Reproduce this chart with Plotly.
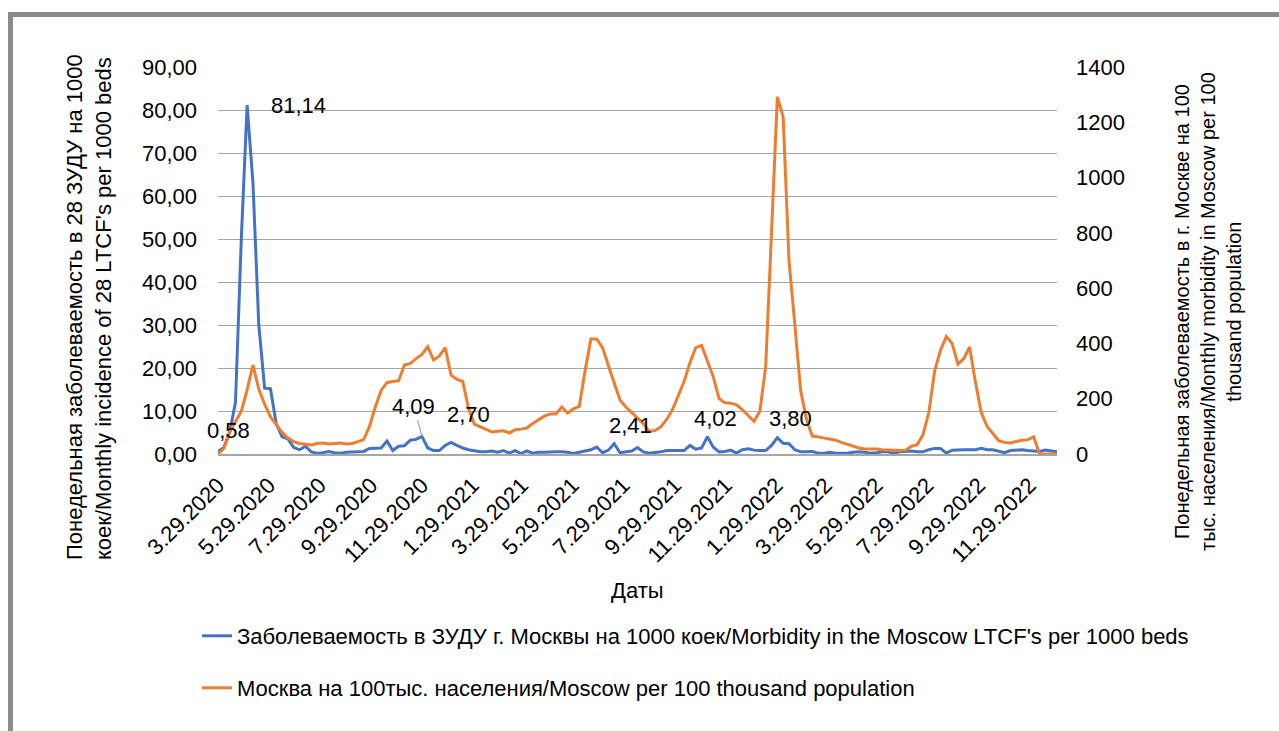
import pandas as pd
import plotly.graph_objects as go

# ---------------- data ----------------
start_date = "2020-03-29"
dates = pd.date_range(start_date, periods=145, freq="7D")

tick_dates = [
    "2020-03-29", "2020-05-29", "2020-07-29", "2020-09-29", "2020-11-29",
    "2021-01-29", "2021-03-29", "2021-05-29", "2021-07-29", "2021-09-29",
    "2021-11-29", "2022-01-29", "2022-03-29", "2022-05-29", "2022-07-29",
    "2022-09-29", "2022-11-29",
]

ltcf = [
    0.58, 1.5, 5.0, 12.0, 50.0, 81.14, 63.0, 30.0, 15.3, 15.2,
    7.0, 4.0, 3.5, 1.5, 1.0, 1.8, 0.5, 0.2, 0.3, 0.6,
    0.3, 0.2, 0.4, 0.5, 0.5, 0.6, 1.3, 1.3, 1.4, 3.0,
    0.8, 1.8, 1.9, 3.2, 3.4, 4.09, 1.4, 0.8, 0.8, 2.0,
    2.70, 2.0, 1.4, 1.0, 0.7, 0.5, 0.5, 0.7, 0.4, 0.8,
    0.2, 0.8, 0.1, 0.7, 0.2, 0.4, 0.4, 0.5, 0.5, 0.5,
    0.4, 0.1, 0.4, 0.8, 1.0, 1.6, 0.3, 0.9, 2.41, 0.3,
    0.5, 0.7, 1.5, 0.5, 0.2, 0.3, 0.5, 0.8, 0.8, 0.8,
    0.8, 2.0, 1.1, 1.4, 4.02, 1.6, 0.5, 0.6, 0.9, 0.2,
    1.0, 1.2, 0.9, 0.8, 0.8, 2.0, 3.80, 2.5, 2.4, 1.0,
    0.5, 0.5, 0.6, 0.2, 0.2, 0.4, 0.2, 0.2, 0.2, 0.4,
    0.5, 0.4, 0.2, 0.3, 0.5, 0.5, 0.2, 0.5, 0.6, 0.7,
    0.5, 0.5, 1.0, 1.3, 1.3, 0.2, 0.9, 1.0, 1.0, 1.0,
    1.0, 1.3, 1.0, 1.0, 0.7, 0.3, 0.8, 0.9, 1.0, 0.8,
    0.7, 0.6, 0.9, 0.7, 0.5,
]

moscow = [
    0, 20, 80, 120, 155, 232, 322, 235, 180, 135,
    105, 78, 58, 45, 38, 36, 33, 38, 40, 36,
    37, 40, 36, 38, 45, 52, 100, 170, 230, 258,
    262, 265, 322, 328, 345, 360, 388, 340, 355, 385,
    285, 270, 263, 165, 108, 98, 88, 80, 82, 84,
    76, 88, 90, 94, 110, 125, 137, 145, 145, 170,
    148, 163, 172, 300, 416, 416, 385, 320, 255, 195,
    170, 150, 130, 110, 82, 85, 98, 125, 160, 210,
    262, 330, 385, 393, 340, 280, 200, 185, 184, 178,
    160, 140, 118, 155, 315, 800, 1292, 1220, 700, 470,
    230, 125, 65, 62, 58, 55, 50, 42, 35, 28,
    22, 18, 18, 18, 15, 14, 12, 13, 14, 28,
    34, 70, 150, 300, 375, 425, 400, 325, 345, 387,
    260, 150, 100, 75, 48, 42, 40, 45, 50, 52,
    62, 0, 0, 0, 0,
]

labelled_points = [0, 5, 35, 40, 68, 84, 96]  # indices of ltcf with data labels

name_ltcf = "Заболеваемость в ЗУДУ г. Москвы на 1000 коек/Morbidity in the Moscow LTCF's per 1000 beds"
name_moscow = "Москва на 100тыс. населения/Moscow per 100 thousand population"
title_left = "Понедельная заболеваемость в 28 ЗУДУ на 1000<br>коек/Monthly incidence of 28 LTCF's per 1000 beds"
title_right = ("Понедельная заболеваемость в г. Москве на 100<br>"
               "тыс. населения/Monthly morbidity in Moscow per 100<br>thousand population")
title_x = "Даты"

# ---------------- layout geometry (pixels) ----------------
W, H = 1279, 731
L, R, T, B = 218, 1057, 67, 454


def px(xp):
    return (xp - L) / (R - L)


def py(yp):
    return (B - yp) / (B - T)


FONT = "Liberation Sans, Arial, sans-serif"
BLUE = "#4472C4"
ORANGE = "#ED7D31"
GRID = "#a6a6a6"
FS = 22

fig = go.Figure()
fig.add_trace(go.Scatter(
    x=dates, y=ltcf, mode="lines", name=name_ltcf,
    line=dict(color=BLUE, width=3), yaxis="y", legend="legend",
))
fig.add_trace(go.Scatter(
    x=dates, y=moscow, mode="lines", name=name_moscow,
    line=dict(color=ORANGE, width=3), yaxis="y2", legend="legend2",
))

# data labels (offsets in pixels)
offsets = {0: (10, 21), 5: (51, 0), 35: None, 40: (17, 28), 68: (16, 18), 84: (8, 18), 96: (13, 19)}
annotations = []
for i in labelled_points:
    txt = f"{ltcf[i]:.2f}".replace(".", ",")
    if offsets[i] is None:
        annotations.append(dict(
            x=dates[i], y=ltcf[i], xref="x", yref="y", text=txt,
            showarrow=True, arrowhead=0, arrowwidth=1.2, arrowcolor="#a6a6a6",
            ax=-8, ay=-30, font=dict(family=FONT, size=FS, color="#000"),
        ))
    else:
        dx, dy = offsets[i]
        annotations.append(dict(
            x=dates[i], y=ltcf[i], xref="x", yref="y", text=txt, showarrow=False,
            xshift=dx, yshift=dy, font=dict(family=FONT, size=FS, color="#000"),
        ))

# axis titles
annotations.append(dict(
    x=px(89), y=py(307), xref="paper", yref="paper", text=title_left, textangle=-90,
    showarrow=False, font=dict(family=FONT, size=22, color="#000"), align="left",
    xanchor="center", yanchor="middle",
))
annotations.append(dict(
    x=px(1208), y=py(312), xref="paper", yref="paper", text=title_right, textangle=-90,
    showarrow=False, font=dict(family=FONT, size=20, color="#000"),
    xanchor="center", yanchor="middle",
))
annotations.append(dict(
    x=px(637), y=py(590), xref="paper", yref="paper", text=title_x,
    showarrow=False, font=dict(family=FONT, size=FS, color="#000"),
    xanchor="center", yanchor="middle",
))

fig.update_layout(
    width=W, height=H,
    margin=dict(l=L, r=W - R, t=T, b=H - B, pad=0),
    paper_bgcolor="white", plot_bgcolor="white",
    separators=", ",
    font=dict(family=FONT, size=FS, color="#000"),
    xaxis=dict(
        type="date", range=[dates[0], dates[-1]],
        tickmode="array", tickvals=tick_dates, tickformat="%-m.%-d.%Y", tickangle=-45,
        showgrid=False, zeroline=False, showline=True, linecolor=GRID, linewidth=1.5,
        ticks="", ticklabelstandoff=8, tickfont=dict(size=FS, color="#000"),
    ),
    yaxis=dict(
        range=[0, 90], dtick=10, tick0=0, tickformat=".2f",
        showgrid=True, gridcolor=GRID, gridwidth=1.3, zeroline=False,
        showline=False, ticks="", ticklabelstandoff=20, tickfont=dict(size=FS, color="#000"),
    ),
    yaxis2=dict(
        range=[0, 1400], dtick=200, tick0=0, tickformat="d",
        overlaying="y", side="right", showgrid=False, zeroline=False,
        showline=False, ticks="", ticklabelstandoff=18, tickfont=dict(size=FS, color="#000"),
    ),
    legend=dict(x=px(197), y=py(636), xanchor="left", yanchor="middle",
                font=dict(size=FS, color="#000"), bgcolor="rgba(0,0,0,0)"),
    legend2=dict(x=px(197), y=py(688), xanchor="left", yanchor="middle",
                 font=dict(size=FS, color="#000"), bgcolor="rgba(0,0,0,0)"),
    showlegend=True,
    annotations=annotations,
    shapes=[dict(
        type="rect", xref="paper", yref="paper",
        x0=px(10.5), x1=px(1320), y0=py(14.5), y1=py(790),
        line=dict(color="#8c8c8c", width=5), fillcolor="rgba(0,0,0,0)", layer="below",
    )],
)

fig.write_html("out.html")
